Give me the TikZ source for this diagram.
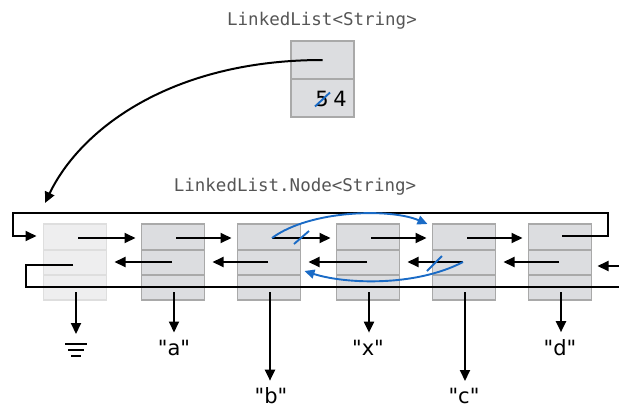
\documentclass[tikz,border=0pt]{standalone}
\usepackage{fontspec}
\setmainfont{DejaVu Sans}[Ligatures=TeXOff]
\setmonofont{DejaVu Sans Mono}
\usetikzlibrary{arrows.meta,calc}
\definecolor{cellfill}{HTML}{DCDDE0}
\definecolor{cellline}{HTML}{A9A9A9}
\definecolor{fadefill}{HTML}{EEEEEF}
\definecolor{fadeline}{HTML}{DEDEDE}
\definecolor{blueptr}{HTML}{1A6BC6}
\definecolor{labelgray}{HTML}{555555}
\begin{document}
\begin{tikzpicture}[x=1pt,y=-1pt,
  cell/.style={draw=cellline, fill=cellfill, line width=1.7pt, minimum width=63pt, minimum height=76pt, inner sep=0pt, outer sep=0pt},
  fadecell/.style={cell, draw=fadeline, fill=fadefill},
  divider/.style={draw=cellline, line width=1.7pt},
  fadedivider/.style={draw=fadeline, line width=1.7pt},
  ptr/.style={line width=2pt, -{Triangle[length=11pt,width=10pt]}},
  wire/.style={line width=2pt},
  blueline/.style={draw=blueptr, line width=1.9pt},
  blueptr/.style={blueline, -{Triangle[length=10pt,width=9pt]}},
  typelabel/.style={font=\fontsize{17.5}{20}\ttfamily, text=labelgray, inner sep=0pt},
  vallabel/.style={font=\fontsize{21}{23}\selectfont, inner sep=0pt},
]
\useasboundingbox (0,0) rectangle (619,408);

% header object
\node[typelabel] (htype) at (322,21) {LinkedList<String>};
\node[cell] (hd) at (322.5,79) {};
\draw[divider] (hd.west) -- (hd.east);
\node[vallabel, anchor=base] (hold) at (322,106) {5};
\node[vallabel, anchor=base] (hnew) at (340,106) {4};
\draw[blueline] ($(hold.center)+(-7,8)$) -- ($(hold.center)+(8,-6)$);
\coordinate (hfirst) at ($(hd.north)+(0,19)$);
\coordinate (lhead) at (45,203);
\draw[ptr] (hfirst) .. controls (170,60) and (80,130) .. (lhead);

% node type label
\node[typelabel] (ntype) at (295,187) {LinkedList.Node<String>};

% cells
\node[fadecell] (n0) at (75,262) {};
\draw[fadedivider] ($(n0.north west)+(0,26)$) -- ($(n0.north east)+(0,26)$);
\draw[fadedivider] ($(n0.north west)+(0,51)$) -- ($(n0.north east)+(0,51)$);
\foreach \i/\x in {1/173,2/269,3/368,4/464,5/560}{
  \node[cell] (n\i) at (\x,262) {};
  \draw[divider] ($(n\i.north west)+(0,26)$) -- ($(n\i.north east)+(0,26)$);
  \draw[divider] ($(n\i.north west)+(0,51)$) -- ($(n\i.north east)+(0,51)$);
}

% pointer start coordinates
\foreach \i in {0,...,5}{
  \coordinate (nx\i) at ($(n\i.north)+(3,14)$);
  \coordinate (pv\i) at ($(n\i.north)+(-1,38)$);
  \coordinate (dt\i) at ($(n\i.north)+(1,68)$);
}

% next pointers
\foreach \i/\j in {0/1,1/2,2/3,3/4,4/5}{
  \draw[ptr] (nx\i) -- ($(n\j.north west)+(-6,14)$);
}
% prev pointers
\foreach \i/\j in {0/1,1/2,2/3,3/4,4/5}{
  \draw[ptr] (pv\j) -- ($(n\i.north east)+(8,38)$);
}

% wrap-around next of last node
\coordinate (wrapin) at ($(n0.north west)+(-7,12)$);
\draw[ptr] ($(n5.north)+(2,12)$) -| (608,213) -| (13,236) -- (wrapin);
% wrap-around prev of first node
\coordinate (rightedge) at (619,287);
\draw[wire] ($(n0.north)+(-2,41)$) -| (26,287) -- (rightedge);
\coordinate (rightin) at (619,266);
\draw[ptr] (rightin) -- ($(n5.north east)+(6,42)$);

% blue changes
\draw[blueptr] (nx2) .. controls (310,210) and (390,208) .. ($(n4.north west)+(-5,0)$);
\draw[blueline] (294,244) -- (309,231);
\draw[blueptr] (pv4) .. controls (415,287) and (345,284) .. ($(n2.north east)+(4,47)$);
\draw[blueline] (427,271) -- (442,256);

% data
\coordinate (gnd) at (76,344);
\draw[ptr] (dt0) -- ($(gnd)+(0,-10)$);
\draw[wire] ($(gnd)+(-11,0)$) -- ($(gnd)+(11,0)$);
\draw[wire] ($(gnd)+(-8,5.5)$) -- ($(gnd)+(8,5.5)$);
\draw[wire] ($(gnd)+(-5,11.5)$) -- ($(gnd)+(5,11.5)$);

\node[vallabel] (va) at (174,347.5) {"a"};
\node[vallabel] (vb) at (271,396) {"b"};
\node[vallabel] (vx) at (368,347.5) {"x"};
\node[vallabel] (vc) at (464,396) {"c"};
\node[vallabel] (vd) at (560,347.5) {"d"};
\draw[ptr, shorten >=7pt] (dt1) -- (dt1 |- va.north);
\draw[ptr, shorten >=7pt] (dt2) -- (dt2 |- vb.north);
\draw[ptr, shorten >=7pt] (dt3) -- (dt3 |- vx.north);
\draw[ptr, shorten >=7pt] (dt4) -- (dt4 |- vc.north);
\draw[ptr, shorten >=7pt] (dt5) -- (dt5 |- vd.north);
\end{tikzpicture}
\end{document}
